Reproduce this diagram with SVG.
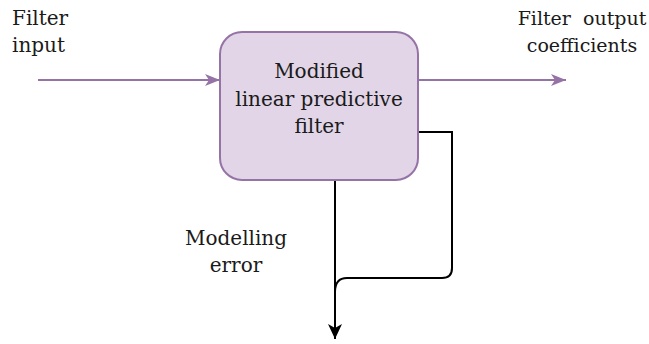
<svg xmlns="http://www.w3.org/2000/svg" width="649" height="344" viewBox="0 0 649 344">
  <defs>
    <marker id="arrowPurple" markerWidth="16" markerHeight="12" refX="15" refY="6" orient="auto" markerUnits="userSpaceOnUse">
      <path d="M0,0 L15,6 L0,12 L4,6 Z" fill="#9673a6"/>
    </marker>
    <marker id="arrowBlack" markerWidth="16" markerHeight="14" refX="15" refY="7" orient="auto" markerUnits="userSpaceOnUse">
      <path d="M0,0 L15,7 L0,14 L4,7 Z" fill="#000"/>
    </marker>
  </defs>
  <style>
    .purple { stroke: #9673a6; stroke-width: 2; fill: none; }
    .black { stroke: #000; stroke-width: 2; fill: none; }
    text { font-family: "DejaVu Serif", "Liberation Serif", serif; font-size: 20px; fill: #1a1a1a; }
    .narrow { font-size: 19px; }
  </style>
  <rect width="649" height="344" fill="#fff"/>

  <g id="connectors">
    <path class="purple" d="M38,80 L220,80" marker-end="url(#arrowPurple)"/>
    <path class="purple" d="M418,80 L566,80" marker-end="url(#arrowPurple)"/>
    <path class="black" d="M335,180 L335,339" marker-end="url(#arrowBlack)"/>
    <path class="black" d="M418,132 L452,132 L452,268 Q452,278 442,278 L347,278 Q335,278 335,292"/>
  </g>

  <g id="filter">
    <rect x="220" y="32" width="198" height="148" rx="22" ry="22" fill="#e1d5e7" stroke="#9673a6" stroke-width="2"/>
    <text text-anchor="middle" x="319" y="78">Modified</text>
    <text text-anchor="middle" x="319" y="106">linear predictive</text>
    <text text-anchor="middle" x="319" y="133">filter</text>
  </g>

  <g id="input-label">
    <text x="12" y="25">Filter</text>
    <text x="12" y="52">input</text>
  </g>

  <g id="output-label">
    <text class="narrow" text-anchor="middle" x="582" y="25" xml:space="preserve">Filter  output</text>
    <text class="narrow" text-anchor="middle" x="582" y="52">coefficients</text>
  </g>

  <g id="error-label">
    <text text-anchor="middle" x="236" y="245">Modelling</text>
    <text text-anchor="middle" x="236" y="272">error</text>
  </g>
</svg>
